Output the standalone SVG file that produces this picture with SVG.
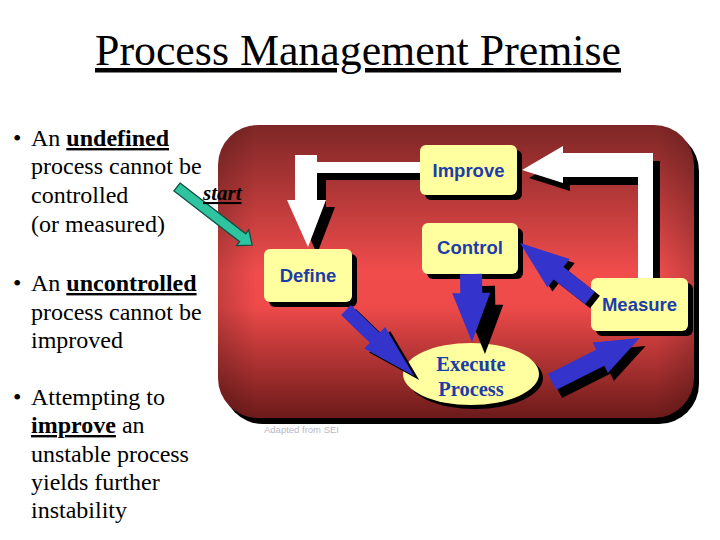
<svg xmlns="http://www.w3.org/2000/svg" width="720" height="540" viewBox="0 0 720 540">
<defs>
<linearGradient id="bg" x1="0" y1="0" x2="0" y2="1">
<stop offset="0" stop-color="#7E2626"/>
<stop offset="0.5" stop-color="#F04C4C"/>
<stop offset="0.62" stop-color="#EE4A4A"/>
<stop offset="1" stop-color="#6C1A1A"/>
</linearGradient>
<linearGradient id="bgh" x1="0" y1="0" x2="1" y2="0">
<stop offset="0" stop-color="#000" stop-opacity="0.18"/>
<stop offset="0.08" stop-color="#000" stop-opacity="0"/>
<stop offset="0.92" stop-color="#000" stop-opacity="0"/>
<stop offset="1" stop-color="#000" stop-opacity="0.18"/>
</linearGradient>
</defs>
<style>
.txt{font-size:24px;fill:#000}
.b{font-weight:bold;text-decoration:underline}
.node{fill:#FFFFA0}
.sh{fill:#000}
.lbl{font-family:"Liberation Sans",Arial,sans-serif;font-weight:bold;font-size:18.5px;fill:#1C3DA8;text-anchor:middle}
.lbls{font-family:"Liberation Serif","Times New Roman",serif;font-weight:bold;font-size:20.5px;fill:#1C3DA8;text-anchor:middle}
.white{fill:#FFFFFF}
.blue{fill:#3434CC}
</style>
<rect width="720" height="540" fill="#FFFFFF"/>
<text x="358" y="65" font-family="Liberation Serif,'Times New Roman',serif" font-size="45" text-anchor="middle" textLength="526" lengthAdjust="spacingAndGlyphs" text-decoration="underline">Process Management Premise</text>

<g id="bullets" class="txt" font-family="Liberation Serif,'Times New Roman',serif">
<text x="13" y="146">•</text>
<text x="31" y="146">An <tspan class="b">undefined</tspan></text>
<text x="31" y="174">process cannot be</text>
<text x="31" y="203">controlled</text>
<text x="31" y="232">(or measured)</text>
<text x="13" y="291">•</text>
<text x="31" y="291">An <tspan class="b">uncontrolled</tspan></text>
<text x="31" y="320">process cannot be</text>
<text x="31" y="348">improved</text>
<text x="13" y="405">•</text>
<text x="31" y="405">Attempting to</text>
<text x="31" y="433"><tspan class="b">improve</tspan> an</text>
<text x="31" y="462">unstable process</text>
<text x="31" y="490">yields further</text>
<text x="31" y="518">instability</text>
</g>

<g id="background">
<rect x="223" y="131" width="476" height="293" rx="40" fill="#000"/>
<rect x="218" y="125" width="476" height="293" rx="40" fill="url(#bg)"/>
<rect x="218" y="125" width="476" height="293" rx="40" fill="url(#bgh)"/>
</g>

<g id="start">
<g transform="translate(177,187) rotate(37.7)">
<polygon points="0,-5 83,-5 83,-10 95,0 83,10 83,5 0,5" fill="#2EC4A0" stroke="#0D4F42" stroke-width="1.3" stroke-linejoin="miter"/>
</g>
<text x="203" y="200" font-family="Liberation Serif,'Times New Roman',serif" font-size="21" font-weight="bold" font-style="italic" text-decoration="underline">start</text>
</g>

<g id="connectors-loop">
<g transform="translate(9,7)" class="sh">
<polygon points="295,155 317,155 317,162 412,162 412,173 317,173 317,200 326,200 308,247 287,200 295,200"/>
</g>
<polygon class="white" points="295,155 317,155 317,162 425,162 425,173 317,173 317,200 326,200 308,247 287,200 295,200"/>
<g transform="translate(7,8)" class="sh">
<polygon points="522,170 563,146 563,153 653,153 653,272 638,272 638,177 563,177 563,183"/>
</g>
<polygon class="white" points="522,170 563,146 563,153 653,153 653,282 638,282 638,177 563,177 563,183"/>
</g>

<g id="n-improve">
<rect class="sh" x="425" y="150" width="97" height="50" rx="6"/>
<rect class="node" x="420" y="145" width="97" height="50" rx="6"/>
<text class="lbl" x="468.5" y="177">Improve</text>
</g>
<g id="n-control">
<rect class="sh" x="427" y="228" width="96" height="51" rx="6"/>
<rect class="node" x="422" y="223" width="96" height="51" rx="6"/>
<text class="lbl" x="470" y="254">Control</text>
</g>
<g id="n-define">
<rect class="sh" x="269" y="254" width="88" height="53" rx="6"/>
<rect class="node" x="264" y="249" width="88" height="53" rx="6"/>
<text class="lbl" x="308" y="282">Define</text>
</g>
<g id="n-measure">
<rect class="sh" x="596" y="283" width="97" height="53" rx="6"/>
<rect class="node" x="591" y="278" width="97" height="53" rx="6"/>
<text class="lbl" x="639.5" y="311">Measure</text>
</g>
<g id="n-execute">
<ellipse class="sh" cx="475" cy="378" rx="68" ry="31"/>
<ellipse class="node" cx="471" cy="374" rx="68" ry="31"/>
<text class="lbls" x="471" y="371">Execute</text>
<text class="lbls" x="471" y="396">Process</text>
</g>

<g id="connectors">
<g transform="translate(5,4)" class="sh">
<polygon transform="translate(346,310) rotate(44.1)" points="0,-7 40,-7 40,-15 95,0 40,15 40,7 0,7"/>
<polygon transform="translate(479,282) rotate(89.2)" points="0,-11 19,-11 19,-19 68,0 19,19 19,11 0,11"/>
<polygon transform="translate(590,298) rotate(218.2)" points="0,-8 40,-8 40,-18 89,0 40,18 40,8 0,8"/>
<polygon transform="translate(553,386) rotate(-26.6)" points="0,-9 54,-9 54,-17 98,0 54,17 54,9 0,9"/>
</g>
<polygon class="blue" transform="translate(346,310) rotate(44.1)" points="0,-7 40,-7 40,-15 95,0 40,15 40,7 0,7"/>
<polygon class="blue" transform="translate(471,274) rotate(89.2)" points="0,-11 19,-11 19,-19 68,0 19,19 19,11 0,11"/>
<polygon class="blue" transform="translate(590,298) rotate(218.2)" points="0,-8 40,-8 40,-18 89,0 40,18 40,8 0,8"/>
<polygon class="blue" transform="translate(552,382) rotate(-26.6)" points="0,-9 54,-9 54,-17 98,0 54,17 54,9 0,9"/>
</g>

<text x="264" y="433" font-family="Liberation Sans,Arial,sans-serif" font-size="9.5" fill="#B8B8C8">Adapted from SEI</text>
</svg>
